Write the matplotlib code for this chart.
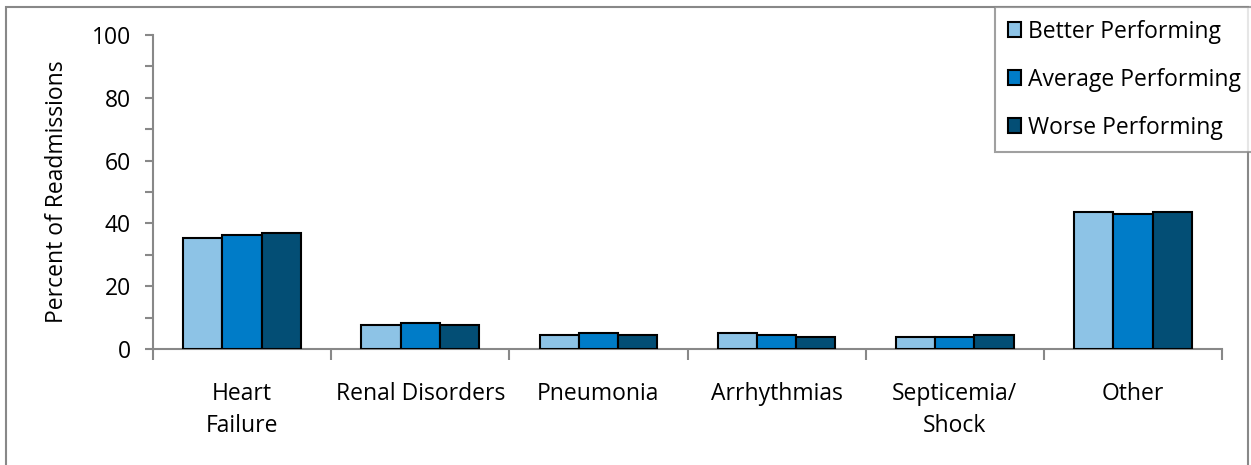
import numpy as np
import matplotlib.pyplot as plt
from matplotlib.patches import Rectangle

plt.rcParams['font.family'] = ['Open Sans', 'DejaVu Sans']

categories = ['Heart\nFailure', 'Renal Disorders', 'Pneumonia', 'Arrhythmias',
              'Septicemia/\nShock', 'Other']
better = [35.5, 7.5, 4.5, 5.2, 3.7, 43.6]
average = [36.3, 8.3, 5.2, 4.5, 3.7, 43.0]
worse = [36.9, 7.5, 4.5, 3.8, 4.5, 43.6]
series = ['Better Performing', 'Average Performing', 'Worse Performing']
colors = ['#8dc3e6', '#007cc8', '#034e75']
fs = 16.5

fig = plt.figure(figsize=(12.51, 4.65), dpi=100)
ax = fig.add_axes([153/1251, 1 - 349/465, (1222 - 153)/1251, (349 - 35)/465])

# outer chart border
fig.patches.append(Rectangle((6/1251, -0.01), (1248 - 6)/1251, 1 - 7/465 + 0.01,
                             transform=fig.transFigure, fill=False,
                             edgecolor='#888888', lw=1.5))

x = np.arange(len(categories))
w = 0.22
for i, (vals, lab, c) in enumerate(zip([better, average, worse], series, colors)):
    ax.bar(x + (i - 1)*w, vals, w, color=c, edgecolor='black', lw=1.5, label=lab,
           zorder=3)

ax.set_xlim(-0.5, len(categories) - 0.5)
ax.set_ylim(0, 100)
ax.set_yticks(np.arange(0, 101, 20))
ax.set_yticks(np.arange(0, 101, 10), minor=True)
ax.set_xticks(np.arange(-0.5, len(categories), 1))
ax.set_xticklabels([])
ax.tick_params(axis='y', which='both', length=6, width=1.5, color='#888888',
               labelsize=fs, pad=10)
ax.tick_params(axis='x', length=8, width=1.5, color='#888888')
for pos, lab in zip(x, categories):
    ax.text(pos, -10.5, lab, ha='center', va='top', fontsize=fs,
            linespacing=1.45, transform=ax.transData)

for s in ['top', 'right']:
    ax.spines[s].set_visible(False)
for s in ['left', 'bottom']:
    ax.spines[s].set_color('#888888')
    ax.spines[s].set_linewidth(1.5)

ax.set_ylabel('Percent of Readmissions', fontsize=fs, labelpad=16)

leg = fig.legend(loc='upper left', bbox_to_anchor=(995/1251, 1 - 7/465),
                 fontsize=fs, frameon=True, fancybox=False, handlelength=0.6,
                 handleheight=0.6, handletextpad=0.3, labelspacing=1.05,
                 borderpad=0.55, borderaxespad=0)
leg.get_frame().set_edgecolor('#888888')
leg.get_frame().set_linewidth(1.5)

fig.savefig('out.png', dpi=100)
